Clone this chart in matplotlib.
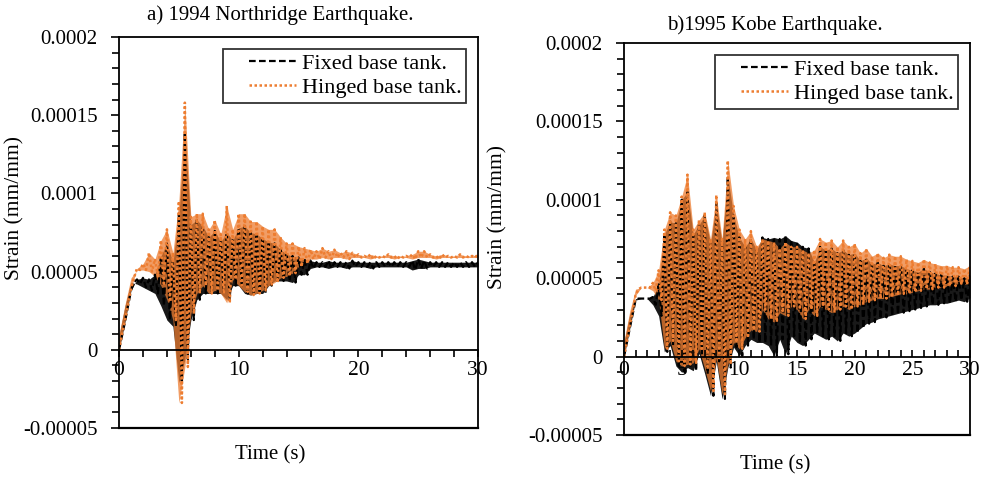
import numpy as np
import matplotlib
matplotlib.use('Agg')
import matplotlib.pyplot as plt
from matplotlib.ticker import MultipleLocator
from matplotlib.legend_handler import HandlerLine2D

plt.rcParams['font.family'] = ['Liberation Serif', 'DejaVu Serif']

# time grid (s): peaks at t, troughs at t + 0.25
t = np.arange(0, 30.5, 0.5)

# strain envelopes, in units of 1e-5 mm/mm
# a) 1994 Northridge
nr_fixed_hi = [0, 1.8, 3.8, 4.5, 4.6, 4.5, 4.8, 6.0, 6.8, 5.6,
               8.6, 13.9, 8.0, 8.3, 7.9, 7.2, 7.6, 6.9, 7.5, 7.0,
               7.8, 7.9, 7.5, 7.4, 7.1, 6.9, 6.8, 6.4, 6.1, 6.0,
               5.9, 5.8, 5.7, 5.6, 5.6, 5.7, 5.6, 5.6, 5.6, 5.7,
               5.6, 5.6, 5.6, 5.6, 5.6, 5.6, 5.6, 5.6, 5.6, 5.7,
               5.8, 5.7, 5.6, 5.6, 5.6, 5.6, 5.6, 5.6, 5.6, 5.6, 5.6]
nr_fixed_lo = [0.9, 2.8, 4.3, 4.2, 4.0, 3.8, 3.6, 2.8, 1.9, 1.5,
               -2.1, -0.6, 1.9, 3.2, 3.6, 3.6, 3.6, 3.6, 3.2, 4.1,
               4.1, 3.6, 3.5, 3.6, 3.6, 4.1, 4.4, 4.4, 4.4, 4.3,
               4.8, 4.8, 5.2, 5.3, 5.3, 5.2, 5.3, 5.3, 5.2, 5.3,
               5.3, 5.3, 5.2, 5.3, 5.3, 5.3, 5.3, 5.3, 5.3, 5.1,
               5.2, 5.2, 5.3, 5.3, 5.3, 5.3, 5.3, 5.3, 5.3, 5.3, 5.3]
nr_hinged_hi = [0, 1.9, 3.9, 5.2, 5.5, 6.2, 5.8, 7.0, 7.7, 6.2,
                9.5, 15.8, 8.5, 8.7, 8.7, 7.7, 8.3, 7.4, 9.2, 7.7,
                8.7, 8.7, 8.2, 8.2, 7.9, 7.7, 7.7, 7.2, 6.8, 6.8,
                6.6, 6.5, 6.4, 6.3, 6.5, 6.3, 6.4, 6.2, 6.3, 6.2,
                6.1, 6.0, 6.1, 6.0, 6.0, 6.1, 6.0, 6.0, 6.0, 6.1,
                6.3, 6.3, 6.1, 6.0, 6.1, 6.0, 6.0, 6.1, 6.0, 6.0, 6.1]
nr_hinged_lo = [1.0, 2.9, 4.6, 5.1, 5.1, 5.0, 4.7, 4.1, 3.2, 1.9,
                -3.4, -1.1, 2.3, 3.6, 4.1, 3.6, 3.8, 3.6, 3.0, 4.5,
                4.1, 3.7, 3.5, 3.6, 3.8, 4.1, 4.3, 4.6, 4.7, 4.9,
                5.3, 5.5, 5.8, 5.8, 5.9, 5.8, 5.9, 5.9, 5.8, 5.9,
                5.9, 5.9, 5.8, 5.9, 5.9, 5.9, 5.8, 5.9, 5.9, 5.8,
                5.9, 5.9, 5.9, 5.8, 5.9, 5.9, 5.9, 5.9, 5.9, 5.9, 5.9]

# b) 1995 Kobe
kb_fixed_hi = [0, 1.8, 3.6, 3.7, 3.7, 3.8, 4.6, 7.8, 8.6, 8.5,
               10.0, 10.5, 7.8, 8.4, 9.0, 7.2, 9.8, 7.2, 11.5, 9.0,
               7.6, 7.0, 7.5, 6.8, 7.6, 7.5, 7.6, 7.5, 7.7, 7.4,
               7.3, 7.0, 6.9, 6.0, 7.0, 6.8, 6.9, 6.6, 6.8, 6.5,
               6.6, 6.1, 6.3, 5.9, 6.0, 5.8, 5.9, 5.8, 5.8, 5.6,
               5.5, 5.4, 5.6, 5.4, 5.3, 5.2, 5.2, 5.1, 5.1, 5.0, 5.2]
kb_fixed_lo = [0.9, 2.7, 3.7, 3.7, 3.7, 3.3, 2.6, 0.3, 0.7, -0.6,
               -1.0, -0.7, -0.9, 0.2, -1.1, -2.5, -0.3, -2.7, -0.7, 0.6,
               0.05, 0.7, 1.1, 0.9, 0.9, 0.7, 0.05, 1.1, 0.15, 1.3,
               0.9, 0.7, 1.1, 1.5, 1.3, 1.1, 1.3, 1.0, 1.5, 1.3,
               1.5, 1.8, 2.1, 2.2, 2.4, 2.5, 2.6, 2.7, 2.8, 2.9,
               3.0, 3.1, 3.2, 3.3, 3.3, 3.4, 3.4, 3.5, 3.6, 3.5, 3.75]
kb_hinged_hi = [0, 2.0, 3.9, 4.4, 4.4, 4.7, 5.5, 8.1, 9.2, 9.0,
                10.2, 11.6, 8.1, 8.7, 9.2, 7.5, 10.3, 7.5, 12.5, 9.6,
                8.1, 7.5, 8.0, 7.0, 7.5, 7.4, 7.3, 6.9, 7.3, 7.0,
                7.0, 6.8, 6.6, 6.8, 7.5, 7.3, 7.4, 7.0, 7.4, 7.0,
                7.2, 6.6, 6.9, 6.4, 6.6, 6.3, 6.5, 6.4, 6.4, 6.2,
                6.1, 6.0, 6.2, 6.0, 5.9, 5.8, 5.8, 5.7, 5.7, 5.6, 5.8]
kb_hinged_lo = [1.0, 2.9, 4.3, 4.4, 4.4, 4.2, 3.6, 0.5, 1.0, -0.3,
                -0.6, -0.5, -0.4, 0.5, -0.8, -2.2, -0.1, -2.4, -0.5, 0.9,
                0.5, 1.2, 1.7, 1.6, 3.0, 2.4, 2.2, 2.8, 2.6, 3.2,
                3.0, 2.4, 3.0, 2.6, 3.2, 3.0, 2.8, 3.0, 3.2, 3.0,
                3.2, 3.3, 3.5, 3.6, 3.7, 3.7, 3.8, 3.9, 4.0, 4.0,
                4.1, 4.2, 4.3, 4.3, 4.4, 4.4, 4.5, 4.5, 4.6, 4.6, 4.7]

ytick_vals = [-0.00005, 0, 0.00005, 0.0001, 0.00015, 0.0002]
ytick_labels = ['-0.00005', '0', '0.00005', '0.0001', '0.00015', '0.0002']

orange = '#ED7D31'
fs = 15


class RightLine(HandlerLine2D):
    # legend line drawn only on the right part of the handle box (Excel look)
    def create_artists(self, legend, orig_handle, xdescent, ydescent,
                       width, height, fontsize, trans):
        arts = super().create_artists(legend, orig_handle, xdescent, ydescent,
                                      width, height, fontsize, trans)
        for a in arts:
            xd = np.asarray(a.get_xdata(), dtype=float)
            yd = np.asarray(a.get_ydata(), dtype=float)
            if xd.size >= 2:
                x0, x1 = xd.min(), xd.max()
                a.set_data([x0 + 0.32 * (x1 - x0), x1], [yd[0], yd[0]])
        return arts


def zigzag(hi, lo):
    x = np.column_stack([t, t + 0.25]).ravel()
    y = np.column_stack([hi, lo]).ravel() * 1e-5
    return x, y


def panel(ax, fixed_hi, fixed_lo, hinged_hi, hinged_lo, xmajor, xminor, tickdir):
    fh, fl = np.array(fixed_hi), np.array(fixed_lo)
    hh, hl = np.array(hinged_hi), np.array(hinged_lo)
    ax.fill_between(t, fl * 1e-5, fh * 1e-5, color='black', lw=0, alpha=0.9)
    x, y = zigzag(fh, fl)
    l1, = ax.plot(x, y, color='black', ls=(0, (3, 1.5)), lw=1.6, label='Fixed base tank.')
    ax.fill_between(t, hl * 1e-5, hh * 1e-5, color=orange, lw=0, alpha=0.75)
    x, y = zigzag(hh, hl)
    l2, = ax.plot(x, y, color=orange, ls=(0, (1, 1)), lw=1.8, label='Hinged base tank.')

    ax.set_xlim(0, 30)
    ax.set_ylim(-0.00005, 0.0002)
    ax.xaxis.set_major_locator(MultipleLocator(xmajor))
    ax.xaxis.set_minor_locator(MultipleLocator(xminor))
    ax.set_yticks(ytick_vals)
    ax.set_yticklabels(ytick_labels)
    ax.yaxis.set_minor_locator(MultipleLocator(0.00001))

    ax.spines['bottom'].set_position(('data', 0))
    for s in ax.spines.values():
        s.set_linewidth(1.3)
    # frame line along the bottom of the box
    ax.plot([0, 1], [0, 0], color='black', lw=1.6, transform=ax.transAxes, clip_on=False)

    ax.tick_params(axis='y', which='major', direction='out', length=6, width=1.2,
                   labelsize=fs, pad=9.5)
    ax.tick_params(axis='y', which='minor', direction='out', length=5, width=1.2)
    ax.tick_params(axis='x', which='both', direction=tickdir, length=5, width=1.2,
                   labelsize=fs + 0.5, pad=3)

    leg = ax.legend(handler_map={l1: RightLine(), l2: RightLine()},
                    loc='upper right', fontsize=fs + 1, frameon=True, fancybox=False,
                    edgecolor='black', handlelength=3.1, borderpad=0.2,
                    labelspacing=0.15, handletextpad=0.25, borderaxespad=0.55)
    leg.get_frame().set_linewidth(1.3)


fig = plt.figure(figsize=(9.83, 4.79), dpi=100)
ax1 = fig.add_axes([0.1211, 0.1065, 0.3652, 0.8163])
ax2 = fig.add_axes([0.6348, 0.0919, 0.3520, 0.8184])

panel(ax1, nr_fixed_hi, nr_fixed_lo, nr_hinged_hi, nr_hinged_lo, 10, 2, 'out')
panel(ax2, kb_fixed_hi, kb_fixed_lo, kb_hinged_hi, kb_hinged_lo, 5, 1, 'in')

fig.text(280 / 983, 1 - 15 / 479, 'a) 1994 Northridge Earthquake.', ha='center', va='center', fontsize=fs)
fig.text(775 / 983, 1 - 25 / 479, 'b)1995 Kobe Earthquake.', ha='center', va='center', fontsize=fs)
fig.text(270 / 983, 1 - 455 / 479, 'Time (s)', ha='center', va='center', fontsize=fs)
fig.text(775 / 983, 1 - 465 / 479, 'Time (s)', ha='center', va='center', fontsize=fs)
fig.text(15 / 983, 1 - 208 / 479, 'Strain (mm/mm)', rotation=90, ha='center', va='center', fontsize=fs + 0.5)
fig.text(498 / 983, 1 - 217 / 479, 'Strain (mm/mm)', rotation=90, ha='center', va='center', fontsize=fs + 0.5)

fig.savefig('out.png', dpi=100)
